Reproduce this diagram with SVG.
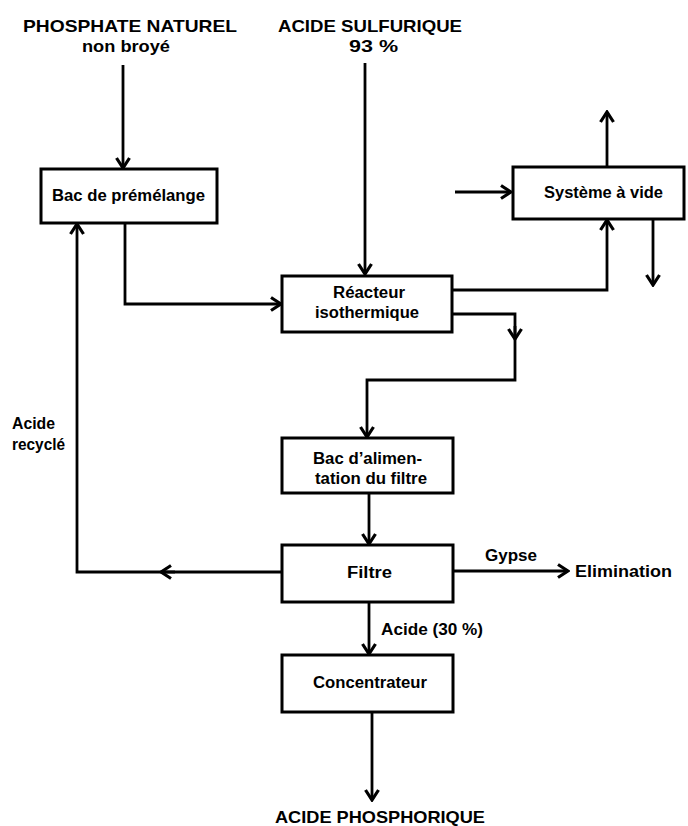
<svg xmlns="http://www.w3.org/2000/svg" width="688" height="826" viewBox="0 0 688 826">
  <style>
    .box { fill: #ffffff; stroke: #000000; stroke-width: 3; }
    .lbl { font-family: "Liberation Sans", Arial, sans-serif; font-weight: bold; font-size: 16px; fill: #000000; }
    .big { font-size: 16.5px; }
    .flow { fill: none; stroke: #000000; stroke-width: 2.8; stroke-linejoin: miter; }
  </style>
  <defs>
    <marker id="arrow" viewBox="-13 -9 15 18" refX="0" refY="0" markerWidth="15" markerHeight="18" markerUnits="userSpaceOnUse" orient="auto">
      <path d="M-10,-6.5 L0,0 L-10,6.5" fill="none" stroke="#000000" stroke-width="3.2"/>
    </marker>
  </defs>

  <rect width="688" height="826" fill="#ffffff"/>

  <!-- feed labels -->
  <g id="in-phosphate">
    <text class="lbl big" x="23" y="32" textLength="214" lengthAdjust="spacingAndGlyphs">PHOSPHATE NATUREL</text>
    <text class="lbl" x="82" y="52" textLength="88" lengthAdjust="spacingAndGlyphs">non broyé</text>
  </g>
  <g id="in-acide-sulfurique">
    <text class="lbl big" x="278" y="32" textLength="184" lengthAdjust="spacingAndGlyphs">ACIDE SULFURIQUE</text>
    <text class="lbl" x="349" y="52" textLength="49" lengthAdjust="spacingAndGlyphs">93 %</text>
  </g>

  <!-- connectors -->
  <g id="connectors">
    <path class="flow" d="M123,65 V168" marker-end="url(#arrow)"/>
    <path class="flow" d="M365,63 V274" marker-end="url(#arrow)"/>
    <path class="flow" d="M125,223 V304 H281" marker-end="url(#arrow)"/>
    <path class="flow" d="M452,290 H607 V220" marker-end="url(#arrow)"/>
    <path class="flow" d="M607,167 V112" marker-end="url(#arrow)"/>
    <path class="flow" d="M455,192 H511" marker-end="url(#arrow)"/>
    <path class="flow" d="M653,219 V285" marker-end="url(#arrow)"/>
    <path class="flow" d="M452,314 H515 V380 H367 V437" marker-end="url(#arrow)"/>
    <path class="flow" d="M515,326 V339" marker-end="url(#arrow)"/>
    <path class="flow" d="M369,493 V544" marker-end="url(#arrow)"/>
    <path class="flow" d="M369,602 V654" marker-end="url(#arrow)"/>
    <path class="flow" d="M453,571 H568" marker-end="url(#arrow)"/>
    <path class="flow" d="M282,572 H77 V224" marker-end="url(#arrow)"/>
    <path class="flow" d="M175,572 H161" marker-end="url(#arrow)"/>
    <path class="flow" d="M372,712 V800" marker-end="url(#arrow)"/>
  </g>

  <!-- process units -->
  <g id="bac-premelange">
    <rect class="box" x="41" y="169" width="176" height="54"/>
    <text class="lbl" x="52" y="201" textLength="153" lengthAdjust="spacingAndGlyphs">Bac de prémélange</text>
  </g>
  <g id="reacteur">
    <rect class="box" x="282" y="276" width="170" height="56"/>
    <text class="lbl" x="333" y="298" textLength="72" lengthAdjust="spacingAndGlyphs">Réacteur</text>
    <text class="lbl" x="315" y="318" textLength="104" lengthAdjust="spacingAndGlyphs">isothermique</text>
  </g>
  <g id="systeme-vide">
    <rect class="box" x="513" y="167" width="171" height="52"/>
    <text class="lbl" x="544" y="198" textLength="119" lengthAdjust="spacingAndGlyphs">Système à vide</text>
  </g>
  <g id="bac-alimentation">
    <rect class="box" x="282" y="438" width="171" height="55"/>
    <text class="lbl" x="313" y="464" textLength="109" lengthAdjust="spacingAndGlyphs">Bac d’alimen-</text>
    <text class="lbl" x="315" y="484" textLength="112" lengthAdjust="spacingAndGlyphs">tation du filtre</text>
  </g>
  <g id="filtre">
    <rect class="box" x="282" y="545" width="171" height="57"/>
    <text class="lbl" x="347" y="578" textLength="45" lengthAdjust="spacingAndGlyphs">Filtre</text>
  </g>
  <g id="concentrateur">
    <rect class="box" x="282" y="655" width="171" height="57"/>
    <text class="lbl" x="313" y="688" textLength="114" lengthAdjust="spacingAndGlyphs">Concentrateur</text>
  </g>

  <!-- stream labels -->
  <g id="lbl-acide-recycle">
    <text class="lbl" x="12" y="429" textLength="43" lengthAdjust="spacingAndGlyphs">Acide</text>
    <text class="lbl" x="12" y="450" textLength="53" lengthAdjust="spacingAndGlyphs">recyclé</text>
  </g>
  <g id="lbl-gypse">
    <text class="lbl" x="485" y="561" textLength="52" lengthAdjust="spacingAndGlyphs">Gypse</text>
  </g>
  <g id="out-elimination">
    <text class="lbl" x="575" y="577" textLength="97" lengthAdjust="spacingAndGlyphs">Elimination</text>
  </g>
  <g id="lbl-acide-30">
    <text class="lbl" x="381" y="635" textLength="102" lengthAdjust="spacingAndGlyphs">Acide (30 %)</text>
  </g>
  <g id="out-acide-phosphorique">
    <text class="lbl big" x="275" y="823" textLength="210" lengthAdjust="spacingAndGlyphs">ACIDE PHOSPHORIQUE</text>
  </g>
</svg>
